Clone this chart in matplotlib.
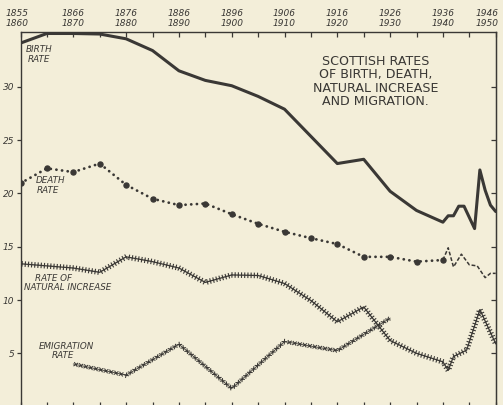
import matplotlib
matplotlib.use("Agg")
import matplotlib.pyplot as plt
import matplotlib.patheffects as pe
import matplotlib.transforms as mtransforms
from matplotlib.ticker import MultipleLocator

# Scottish rates per 1000 of population
birth_years = [1860, 1865, 1870, 1875, 1880, 1885, 1890, 1895, 1900, 1905, 1910,
               1920, 1925, 1930, 1935, 1940, 1941, 1942, 1943, 1944, 1946, 1947,
               1948, 1949, 1950]
birth_rate = [34.1, 35.0, 35.0, 34.95, 34.5, 33.4, 31.5, 30.6, 30.1, 29.1, 27.9,
              22.8, 23.2, 20.2, 18.4, 17.3, 17.9, 17.9, 18.8, 18.8, 16.7, 22.2,
              20.3, 18.9, 18.3]

death_years = [1860, 1865, 1870, 1875, 1880, 1885, 1890, 1895, 1900, 1905, 1910,
               1915, 1920, 1925, 1930, 1935, 1940]
death_rate = [20.95, 22.35, 22.0, 22.8, 20.8, 19.5, 18.9, 19.05, 18.05, 17.15, 16.4,
              15.8, 15.25, 14.05, 14.05, 13.6, 13.75]

# war and post-war years are drawn dashed
death_late_years = [1940, 1941, 1942, 1943.5, 1945, 1946.5, 1948, 1949, 1950]
death_late_rate = [13.75, 14.9, 13.1, 14.3, 13.3, 13.2, 12.1, 12.5, 12.5]

natinc_years = [1860, 1865, 1870, 1875, 1880, 1885, 1890, 1895, 1900, 1905, 1910,
                1915, 1920, 1925, 1930, 1935, 1940, 1941, 1942, 1944.5, 1947, 1950]
natinc_rate = [13.4, 13.2, 13.0, 12.6, 14.05, 13.6, 13.0, 11.65, 12.35, 12.3, 11.55,
               9.95, 7.95, 9.35, 6.2, 5.0, 4.2, 3.4, 4.7, 5.3, 9.1, 5.9]

emig_years = [1870, 1880, 1890, 1900, 1910, 1920, 1930]
emig_rate = [4.0, 2.95, 5.85, 1.7, 6.1, 5.25, 8.3]

census_years = [1860, 1870, 1880, 1890, 1900, 1910, 1920, 1930, 1940, 1950]
period_starts = [1855, 1866, 1876, 1886, 1896, 1906, 1916, 1926, 1936, 1946]
rate_ticks = [5, 10, 15, 20, 25, 30]

bg = "#f3eed9"
ink = "#3a3835"

plt.rcParams["font.family"] = "DejaVu Sans"
plt.rcParams["font.style"] = "italic"

fig = plt.figure(figsize=(5.03, 4.05), dpi=100, facecolor=bg)
ax = fig.add_axes([0.0408, -0.0040, 0.9447, 0.9250], facecolor=bg)

ax.plot(birth_years, birth_rate, color=ink, lw=2.2,
        solid_joinstyle="round", solid_capstyle="round")

ax.plot(death_years, death_rate, color=ink, lw=2.0,
        linestyle=(0, (0.05, 2.0)), dash_capstyle="round")
ax.plot(death_years, death_rate, "o", color=ink, ms=3.6, ls="none")
ax.plot(death_late_years, death_late_rate, color=ink, lw=1.1,
        linestyle=(0, (2.5, 1.3)))

# line with little crosses across it
plus_fx = [pe.Normal(),
           pe.TickedStroke(spacing=2.3, angle=90, length=0.7, linewidth=0.8),
           pe.TickedStroke(spacing=2.3, angle=-90, length=0.7, linewidth=0.8)]
ax.plot(natinc_years, natinc_rate, color=ink, lw=0.9, path_effects=plus_fx)

x_fx = [pe.Normal()] + [pe.TickedStroke(spacing=3.7, angle=a, length=0.45, linewidth=0.75)
                        for a in (45, -135, 135, -45)]
ax.plot(emig_years, emig_rate, color=ink, lw=0.6, path_effects=x_fx)

# series labels
lab = dict(fontsize=6.3, color=ink, ha="center", va="center")
ax.text(1863.5, 33.5, "BIRTH", **lab)
ax.text(1863.4, 32.55, "RATE", **lab)
ax.text(1865.6, 21.2, "DEATH", **lab)
ax.text(1865.2, 20.25, "RATE", **lab)
ax.text(1866.3, 12.05, "RATE OF", **lab)
ax.text(1869.0, 11.2, "NATURAL INCREASE", **lab)
ax.text(1868.7, 5.65, "EMIGRATION", **lab)
ax.text(1868.0, 4.75, "RATE", **lab)

ax.text(1927.3, 30.5, "SCOTTISH RATES\nOF BIRTH, DEATH,\nNATURAL INCREASE\nAND MIGRATION.",
        fontsize=9.1, style="normal", color=ink, ha="center", va="center",
        multialignment="center", linespacing=1.05)

ax.set_xlim(1860, 1950)
ax.set_ylim(0, 35.14)

ax.set_xticks(census_years, labels=[f"{a}\n{b}" for a, b in zip(period_starts, census_years)])
ax.xaxis.set_minor_locator(MultipleLocator(5))
ax.tick_params(axis="x", which="both", top=True, bottom=True, labeltop=True,
               labelbottom=False, direction="in", length=3.5, width=0.9,
               color=ink, labelcolor=ink, labelsize=6.5, pad=3)
xlabels = ax.get_xticklabels()
for t in xlabels:
    t.set_linespacing(1.15)
# end labels sit a little left of their ticks, as in the print
for t, dx in ((xlabels[0], -2.5), (xlabels[-1], -6.0)):
    t.set_transform(t.get_transform() + mtransforms.ScaledTranslation(dx / 72, 0, fig.dpi_scale_trans))

ax.set_yticks(rate_ticks)
ax.tick_params(axis="y", which="both", left=True, right=False, direction="out",
               length=3, width=0.9, color=ink, labelcolor=ink, labelsize=6.5, pad=1.5)

right = ax.secondary_yaxis("right")
right.set_yticks(rate_ticks)
right.tick_params(direction="in", length=3.5, width=0.9, color=ink, labelright=False)
right.spines["right"].set_color(ink)

for s in ax.spines.values():
    s.set_color(ink)
    s.set_linewidth(1.0)

fig.savefig("out.png", dpi=100, facecolor=bg)
